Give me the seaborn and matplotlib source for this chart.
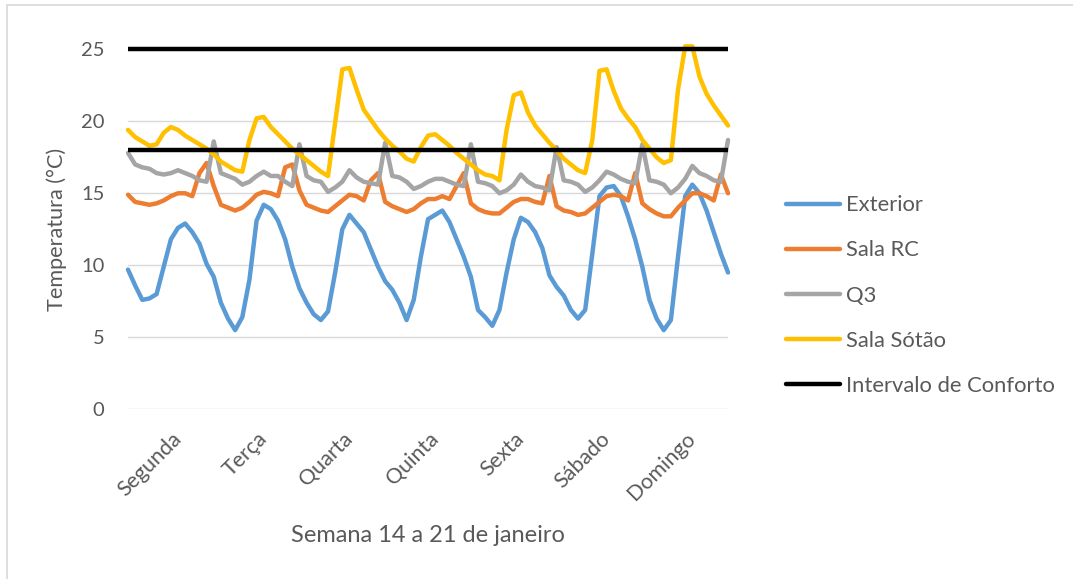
import pandas as pd
import matplotlib.pyplot as plt
import seaborn as sns
from matplotlib.patches import Rectangle

sns.set_theme(style="white")
plt.rcParams['font.family'] = ['Lato', 'DejaVu Sans']

# leituras de 2 em 2 horas, 14 a 21 de janeiro (85 pontos)
exterior = [9.7, 8.6, 7.6, 7.7, 8.0, 9.9, 11.8, 12.6, 12.9, 12.3, 11.5, 10.1,
            9.2, 7.4, 6.3, 5.5, 6.4, 9.0, 13.1, 14.2, 13.9, 13.1, 11.8, 9.9,
            8.4, 7.4, 6.6, 6.2, 6.8, 9.5, 12.5, 13.5, 12.9, 12.3, 11.1, 9.9,
            8.9, 8.3, 7.4, 6.2, 7.6, 10.6, 13.2, 13.5, 13.8, 13.0, 11.8, 10.6,
            9.2, 6.9, 6.4, 5.8, 6.9, 9.5, 11.8, 13.3, 13.0, 12.3, 11.2, 9.3,
            8.5, 7.9, 6.9, 6.3, 6.9, 10.8, 14.8, 15.4, 15.5, 14.8, 13.4, 11.8,
            9.9, 7.6, 6.3, 5.5, 6.2, 10.6, 14.8, 15.6, 15.0, 13.8, 12.3, 10.8,
            9.5]
sala_rc = [14.9, 14.4, 14.3, 14.2, 14.3, 14.5, 14.8, 15.0, 15.0, 14.8, 16.4, 17.1,
           15.5, 14.2, 14.0, 13.8, 14.0, 14.4, 14.9, 15.1, 15.0, 14.8, 16.8, 17.0,
           15.2, 14.2, 14.0, 13.8, 13.7, 14.1, 14.5, 14.9, 14.8, 14.5, 15.9, 16.4,
           14.4, 14.1, 13.9, 13.7, 13.9, 14.3, 14.6, 14.6, 14.8, 14.6, 15.5, 16.4,
           14.3, 13.9, 13.7, 13.6, 13.6, 14.0, 14.4, 14.6, 14.6, 14.4, 14.3, 16.2,
           14.1, 13.8, 13.7, 13.5, 13.6, 14.0, 14.4, 14.8, 14.9, 14.8, 14.5, 16.4,
           14.3, 13.9, 13.6, 13.4, 13.4, 14.0, 14.5, 15.0, 15.0, 14.8, 14.5, 16.3,
           15.0]
q3 = [17.8, 17.0, 16.8, 16.7, 16.4, 16.3, 16.4, 16.6, 16.4, 16.2, 15.9, 15.8,
      18.6, 16.4, 16.2, 16.0, 15.6, 15.8, 16.2, 16.5, 16.2, 16.2, 15.8, 15.5,
      18.4, 16.2, 15.9, 15.8, 15.1, 15.4, 15.8, 16.6, 16.1, 15.8, 15.7, 15.6,
      18.5, 16.2, 16.1, 15.8, 15.3, 15.5, 15.8, 16.0, 16.0, 15.8, 15.6, 15.5,
      18.4, 15.8, 15.7, 15.5, 15.0, 15.2, 15.6, 16.3, 15.8, 15.5, 15.4, 15.2,
      18.2, 15.9, 15.8, 15.6, 15.1, 15.4, 15.9, 16.5, 16.3, 16.0, 15.8, 15.7,
      18.4, 15.9, 15.8, 15.6, 15.0, 15.4, 16.0, 16.9, 16.4, 16.2, 15.9, 15.8,
      18.7]
sala_sotao = [19.4, 18.9, 18.6, 18.3, 18.4, 19.2, 19.6, 19.4, 19.0, 18.7, 18.4, 18.1,
              17.7, 17.2, 16.9, 16.6, 16.5, 18.7, 20.2, 20.3, 19.6, 19.1, 18.6, 18.1,
              17.7, 17.3, 16.9, 16.5, 16.2, 19.9, 23.6, 23.7, 22.2, 20.8, 20.1, 19.4,
              18.8, 18.3, 17.9, 17.4, 17.2, 18.2, 19.0, 19.1, 18.7, 18.3, 17.8, 17.4,
              17.0, 16.6, 16.3, 16.2, 15.9, 19.4, 21.8, 22.0, 20.6, 19.7, 19.1, 18.5,
              18.0, 17.4, 17.0, 16.6, 16.4, 18.7, 23.5, 23.6, 22.1, 20.9, 20.2, 19.6,
              18.7, 18.1, 17.5, 17.1, 17.3, 22.2, 25.2, 25.2, 23.1, 21.9, 21.1, 20.4,
              19.7]
conforto_min = 18
conforto_max = 25

dias = ["Segunda", "Terça", "Quarta", "Quinta", "Sexta", "Sábado", "Domingo"]
series = ["Exterior", "Sala RC", "Q3", "Sala Sótão"]
cores = {"Exterior": "#5B9BD5", "Sala RC": "#ED7D31", "Q3": "#A5A5A5",
         "Sala Sótão": "#FFC000"}

t = list(range(len(exterior)))
df = pd.DataFrame({"t": t, "Exterior": exterior, "Sala RC": sala_rc,
                   "Q3": q3, "Sala Sótão": sala_sotao})
df_long = df.melt(id_vars="t", var_name="serie", value_name="temp")

fig = plt.figure(figsize=(10.73, 5.79), dpi=100)
ax = fig.add_axes([0.1193, 0.293, 0.5592, 0.622])

sns.lineplot(data=df_long, x="t", y="temp", hue="serie", hue_order=series,
             palette=cores, linewidth=3.2, ax=ax, legend=False, clip_on=False)
ax.hlines([conforto_min, conforto_max], t[0], t[-1], colors="black",
          linewidth=3.2, zorder=5, clip_on=False)

ax.set_xlim(t[0], t[-1])
ax.set_ylim(0, 25)
ax.set_yticks(range(0, 26, 5))
ax.yaxis.grid(True, color="#D9D9D9", linewidth=1)
ax.set_axisbelow(True)
for s in ax.spines.values():
    s.set_visible(False)

txt = "#595959"
ax.set_xticks([12 * d + 6 for d in range(7)])
ax.set_xticklabels(dias, rotation=45, ha="right", rotation_mode="anchor",
                   fontsize=15.5, color=txt)
ax.tick_params(axis="x", length=0, pad=14)
ax.tick_params(axis="y", length=0, pad=17, labelsize=14.5, labelcolor=txt)
ax.set_xlabel("Semana 14 a 21 de janeiro", fontsize=17, color=txt, labelpad=15)
ax.set_ylabel("Temperatura (°C)", fontsize=15.6, color=txt, labelpad=10)

# legenda à direita
handles = [plt.Line2D([], [], color=cores[s], linewidth=3.2,
                      solid_capstyle="round") for s in series]
handles.append(plt.Line2D([], [], color="black", linewidth=3.2,
                          solid_capstyle="round"))
leg = fig.legend(handles, series + ["Intervalo de Conforto"],
                 loc="upper left", bbox_to_anchor=(0.714, 0.697),
                 frameon=False, fontsize=15.8, handlelength=2.47,
                 handletextpad=0.28, labelspacing=1.15)
for tx in leg.get_texts():
    tx.set_color(txt)

fig.patches.append(Rectangle((7 / 1073, -0.1), 1.2, 1 - 5 / 579 + 0.1,
                             transform=fig.transFigure, fill=False,
                             edgecolor="#D9D9D9", linewidth=1.2))

fig.savefig("out.png", dpi=100)
